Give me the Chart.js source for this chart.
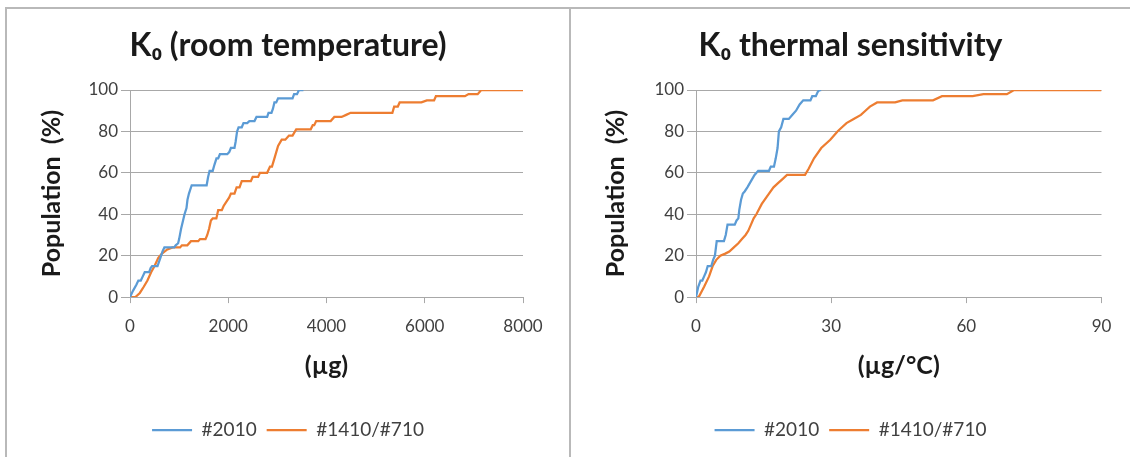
<!DOCTYPE html>
<html lang="en">
<head>
    <meta charset="UTF-8">
    <title>K0 population curves</title>
    <style>
        body {
            margin: 0;
            width: 1130px;
            height: 457px;
            overflow: hidden;
            background: #fff;
            position: relative;
        }
        .line {
            position: absolute;
            background: #b9b9b9;
        }
        canvas {
            position: absolute;
            top: 0;
        }
    </style>
    <script src="https://cdn.jsdelivr.net/npm/chart.js"></script>
</head>
<body>
    <div class="line" style="left:5px; top:7px; width:1125px; height:2px;"></div>
    <div class="line" style="left:5px; top:7px; width:2px; height:450px;"></div>
    <div class="line" style="left:569px; top:7px; width:2px; height:450px;"></div>

    <canvas id="roomChart" width="562" height="457" style="left:7px;"></canvas>
    <canvas id="thermChart" width="559" height="457" style="left:571px;"></canvas>

    <script>
        // series names
        const seriesNames = ['#2010', '#1410/#710'];

        // K0 room temperature (µg) vs population (%)
        const room2010X = [0, 60, 130, 170, 220, 260, 300, 390, 420, 450, 560, 620, 660, 700, 900, 930, 980, 1000, 1040, 1080,
            1110, 1150, 1170, 1200, 1256, 1560, 1590, 1620, 1684, 1720, 1760, 1795, 1830, 1980, 2020, 2054, 2127, 2150, 2180, 2210,
            2275, 2310, 2386, 2430, 2534, 2575, 2792, 2820, 2880, 2910, 2940, 2977, 3014, 3309, 3340, 3400, 3440, 3530];
        const room2010Y = [0, 3, 6, 8, 8, 10, 12, 12, 14, 15, 15, 19, 22, 24, 24, 25, 26, 28, 33, 37,
            40, 43, 47, 50, 54, 54, 58, 61, 61, 64, 67, 67, 69, 69, 70, 72, 72, 75, 80, 82,
            82, 84, 84, 85, 85, 87, 87, 89, 89, 91, 94, 94, 96, 96, 98, 98, 100, 100];

        const room1410X = [0, 110, 200, 280, 355, 430, 500, 576, 650, 760, 870, 1020, 1056, 1167, 1241, 1389, 1426, 1537, 1573, 1610,
            1647, 1684, 1758, 1795, 1869, 1906, 1960, 2017, 2054, 2127, 2170, 2230, 2275, 2460, 2497, 2608, 2645, 2792, 2850, 2890,
            2940, 3014, 3088, 3162, 3236, 3309, 3383, 3679, 3720, 3750, 3790, 4085, 4159, 4307, 4400, 4491, 5341, 5377, 5452, 5489,
            5932, 6043, 6190, 6227, 6818, 6892, 7077, 7150, 8000];
        const room1410Y = [0, 0, 2, 5, 8, 12, 15, 19, 21, 23, 24, 24, 25, 25, 27, 27, 28, 28, 30, 33,
            37, 38, 38, 42, 42, 44, 46, 48, 50, 50, 53, 53, 56, 56, 58, 58, 60, 60, 63, 63,
            67, 73, 76, 76, 78, 78, 81, 81, 83, 83, 85, 85, 87, 87, 88, 89, 89, 92, 92, 94,
            94, 95, 95, 97, 97, 98, 98, 100, 100];

        // K0 thermal sensitivity (µg/°C) vs population (%)
        const therm2010X = [0, 0.3, 0.5, 1.0, 1.4, 1.8, 2.2, 2.6, 3.4, 3.8, 4.2, 4.6, 6.2, 6.6, 7.0, 8.6, 9.0, 9.4, 9.6, 10.0,
            10.4, 10.8, 11.4, 12.2, 13.0, 13.8, 16.2, 16.6, 17.3, 17.7, 18.1, 18.4, 18.9, 19.4, 20.6, 21.4, 22.2, 23.0, 23.8, 25.4,
            25.8, 26.6, 27.0, 27.4, 27.8];
        const therm2010Y = [0, 3, 5, 8, 8, 10, 12, 15, 15, 18, 20, 27, 27, 30, 35, 35, 37, 38, 42, 47,
            50, 51, 53, 56, 59, 61, 61, 63, 63, 67, 72, 80, 82, 86, 86, 88, 90, 93, 95, 95,
            97, 97, 99, 100, 100];

        const therm1410X = [0, 0.6, 1.8, 2.9, 3.7, 4.5, 5.4, 6.5, 7.4, 8.4, 9.4, 10.2, 11.0, 11.6, 12.2, 12.8, 13.4, 14.6, 16.2, 17.2,
            18.2, 19.2, 20.2, 24.2, 25.0, 26.2, 27.8, 29.8, 31.4, 32.4, 33.4, 35.0, 36.6, 37.6, 38.6, 40.2, 44.2, 45.8, 52.6, 54.6,
            61.4, 63.8, 69.0, 70.6, 90];
        const therm1410Y = [0, 0, 5, 10, 15, 18, 20, 21, 22, 24, 26, 28, 30, 32, 35, 38, 40, 45, 50, 53,
            55, 57, 59, 59, 62, 67, 72, 76, 80, 82, 84, 86, 88, 90, 92, 94, 94, 95, 95, 97,
            97, 98, 98, 100, 100];

        const colors = ['#5b9bd5', '#ed7d31'];
        const font = 'Lato, "DejaVu Sans", sans-serif';
        const gridColor = '#a8a8a8';

        function pts(xs, ys) {
            return xs.map((x, i) => ({ x: x, y: ys[i] }));
        }

        // side padding is the same on both sides so the title stays centred on the panel;
        // the y axis title is pulled back into the left padding with yTitlePad
        function makeChart(id, opts) {
            const ctx = document.getElementById(id).getContext('2d');
            return new Chart(ctx, {
                type: 'line',
                data: {
                    datasets: opts.series.map((d, i) => ({
                        label: seriesNames[i],
                        data: d,
                        borderColor: colors[i],
                        backgroundColor: colors[i],
                        borderWidth: 2.25,
                        pointRadius: 0,
                        tension: 0,
                        fill: false
                    }))
                },
                options: {
                    responsive: false,
                    animation: false,
                    devicePixelRatio: 1,
                    layout: { padding: { left: opts.side, right: opts.side, top: 0, bottom: 7.5 } },
                    plugins: {
                        tooltip: { enabled: false },
                        title: {
                            display: true,
                            text: opts.title,
                            color: '#1a1a1a',
                            font: { family: font, size: 32, weight: 'bold' },
                            padding: { top: 26, bottom: 25.6 }
                        },
                        legend: {
                            position: 'bottom',
                            labels: {
                                usePointStyle: true,
                                pointStyle: 'line',
                                pointStyleWidth: 40,
                                boxWidth: 40,
                                padding: 10,
                                color: '#404040',
                                font: { family: font, size: 19 }
                            }
                        }
                    },
                    scales: {
                        x: {
                            type: 'linear',
                            min: 0,
                            max: opts.xMax,
                            ticks: {
                                stepSize: opts.xStep,
                                padding: 13,
                                color: '#404040',
                                font: { family: font, size: 17 },
                                callback: v => String(v)
                            },
                            grid: { drawOnChartArea: false, tickLength: 6, color: gridColor },
                            border: { color: gridColor },
                            title: {
                                display: true,
                                text: opts.xTitle,
                                color: '#1a1a1a',
                                font: { family: font, size: 25, weight: 'bold' },
                                padding: { top: 1, bottom: 30 }
                            }
                        },
                        y: {
                            min: 0,
                            max: 100,
                            ticks: { stepSize: 20, padding: 3, color: '#404040', font: { family: font, size: 17 } },
                            grid: { tickLength: 9, color: gridColor },
                            border: { color: gridColor },
                            title: {
                                display: true,
                                text: 'Population  (%)',
                                color: '#1a1a1a',
                                font: { family: font, size: 25, weight: 'bold' },
                                padding: { top: opts.yTitlePad, bottom: 0 }
                            },
                            afterFit: s => { s.width = opts.yWidth; }
                        }
                    }
                }
            });
        }

        makeChart('roomChart', {
            title: 'K\u2080 (room temperature)',
            xTitle: '(\u00b5g)',
            xMax: 8000,
            xStep: 2000,
            side: 46,
            yWidth: 77,
            yTitlePad: -16,
            series: [pts(room2010X, room2010Y), pts(room1410X, room1410Y)]
        });

        makeChart('thermChart', {
            title: 'K\u2080 thermal sensitivity',
            xTitle: '(\u00b5g/\u00b0C)',
            xMax: 90,
            xStep: 30,
            side: 28.5,
            yWidth: 96.5,
            yTitlePad: 1,
            series: [pts(therm2010X, therm2010Y), pts(therm1410X, therm1410Y)]
        });
    </script>
</body>
</html>
